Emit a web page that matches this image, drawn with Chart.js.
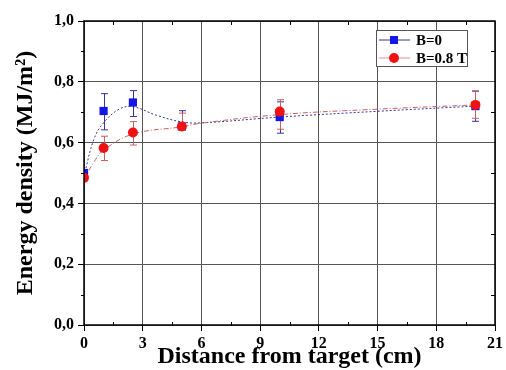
<!DOCTYPE html>
<html>
<head>
<meta charset="utf-8">
<script src="https://cdn.jsdelivr.net/npm/chart.js@4/dist/chart.umd.min.js"></script>
<style>
  html, body { margin: 0; padding: 0; background: #fff; }
  #wrap { width: 506px; height: 370px; }
</style>
</head>
<body>
<div id="wrap"><canvas id="chart" width="506" height="370"></canvas></div>
<script>
// Energy density vs. distance from target, B=0 and B=0.8 T

const distance = [0, 1, 2.5, 5, 10, 20];
const energyB0 = [0.50, 0.704, 0.732, 0.653, 0.684, 0.72];
const energyB08 = [0.484, 0.582, 0.633, 0.653, 0.702, 0.724];

// error bar ends (top / bottom)
const b0Hi = [0.50, 0.761, 0.771, 0.705, 0.734, 0.77];
const b0Lo = [0.50, 0.642, 0.686, 0.653, 0.631, 0.67];
const b08Hi = [0.484, 0.621, 0.669, 0.697, 0.741, 0.768];
const b08Lo = [0.484, 0.541, 0.592, 0.653, 0.644, 0.68];

// smooth curves
const fitB0X = [0, 0.5, 1, 1.8, 2.5, 3.7, 5, 6, 10, 15, 20];
const fitB0Y = [0.49, 0.61, 0.665, 0.71, 0.718, 0.69, 0.668, 0.665, 0.684, 0.703, 0.72];
const fitB08X = [0, 0.5, 1, 2.5, 5, 6, 10, 15, 20];
const fitB08Y = [0.48, 0.535, 0.575, 0.628, 0.652, 0.664, 0.692, 0.71, 0.724];

const xTicks = [0, 3, 6, 9, 12, 15, 18, 21];
const yTicks = [0, 0.2, 0.4, 0.6, 0.8, 1.0];

const seriesNames = ['B=0', 'B=0.8 T'];

const BLUE = '#1515e8';
const BLUE_LINE = '#35359a';
const RED = '#ee1212';
const RED_LINE = '#c86060';
const SERIF = "'Liberation Serif', 'Times New Roman', serif";

const pts = (xs, ys) => xs.map((x, i) => ({ x, y: ys[i] }));

const errorBars = {
  id: 'errorBars',
  beforeDatasetsDraw(chart) {
    const { ctx, scales: { x, y } } = chart;
    const sets = [
      { hi: b0Hi, lo: b0Lo, color: BLUE_LINE },
      { hi: b08Hi, lo: b08Lo, color: RED_LINE }
    ];
    ctx.save();
    ctx.lineWidth = 1;
    sets.forEach(s => {
      ctx.strokeStyle = s.color;
      distance.forEach((d, i) => {
        if (s.hi[i] === s.lo[i]) return;
        const px = Math.round(x.getPixelForValue(d)) + 0.5;
        const top = y.getPixelForValue(s.hi[i]);
        const bot = y.getPixelForValue(s.lo[i]);
        ctx.beginPath();
        ctx.moveTo(px, top); ctx.lineTo(px, bot);
        ctx.moveTo(px - 3.5, top); ctx.lineTo(px + 3.5, top);
        ctx.moveTo(px - 3.5, bot); ctx.lineTo(px + 3.5, bot);
        ctx.stroke();
      });
    });
    ctx.restore();
  }
};

const frame = {
  id: 'frame',
  afterDatasetsDraw(chart) {
    const { ctx, chartArea: a, scales: { x, y } } = chart;
    const mids = t => t.slice(1).map((k, i) => (k.value + t[i].value) / 2);
    const seg = (x1, y1, x2, y2) => { ctx.moveTo(x1, y1); ctx.lineTo(x2, y2); };
    ctx.save();
    ctx.strokeStyle = '#000';
    ctx.lineWidth = 1;
    ctx.beginPath();
    mids(x.ticks).forEach(v => {
      const px = Math.round(x.getPixelForValue(v)) + 0.5;
      seg(px, a.bottom - 3, px, a.bottom + 1);
      seg(px, a.top, px, a.top + 4);
    });
    mids(y.ticks).forEach(v => {
      const py = Math.round(y.getPixelForValue(v)) + 0.5;
      seg(a.left - 3, py, a.left, py);
      seg(a.right - 4, py, a.right, py);
    });
    ctx.stroke();
    ctx.lineWidth = 1.5;
    ctx.strokeRect(a.left, a.top, a.right - a.left, a.bottom - a.top);

    // legend box in the upper right of the plot
    const lx = a.right - 119, ly = a.top + 9;
    ctx.lineWidth = 1;
    ctx.fillStyle = '#fff';
    ctx.fillRect(lx, ly, 91, 36);
    ctx.strokeStyle = '#555';
    ctx.strokeRect(lx + 0.5, ly + 0.5, 91, 36);
    ctx.font = 'bold 15px ' + SERIF;
    ctx.textBaseline = 'middle';
    const rows = [
      { y: ly + 10, line: BLUE_LINE, fill: BLUE, shape: 'rect' },
      { y: ly + 28, line: '#e09090', fill: RED, shape: 'circle' }
    ];
    rows.forEach((r, i) => {
      ctx.strokeStyle = r.line;
      ctx.beginPath();
      ctx.moveTo(lx + 3, r.y); ctx.lineTo(lx + 34, r.y);
      ctx.stroke();
      ctx.fillStyle = r.fill;
      if (r.shape === 'rect') ctx.fillRect(lx + 14, r.y - 4, 8, 8);
      else { ctx.beginPath(); ctx.arc(lx + 18, r.y, 5, 0, Math.PI * 2); ctx.fill(); }
      ctx.fillStyle = '#000';
      ctx.fillText(seriesNames[i], lx + 40, r.y + 1);
    });
    ctx.restore();
  }
};

new Chart(document.getElementById('chart'), {
  type: 'scatter',
  data: {
    datasets: [
      {
        label: seriesNames[1], data: pts(distance, energyB08), order: 0, clip: 0,
        pointStyle: 'circle', pointRadius: 5, pointHoverRadius: 5,
        backgroundColor: RED, borderColor: RED, borderWidth: 0
      },
      {
        label: seriesNames[0], data: pts(distance, energyB0), order: 1, clip: 0,
        pointStyle: 'rect', pointRadius: 5.8, pointHoverRadius: 5.8,
        backgroundColor: BLUE, borderColor: BLUE, borderWidth: 0
      },
      {
        type: 'line', label: 'fit B=0.8 T', data: pts(fitB08X, fitB08Y), order: 2,
        borderColor: RED_LINE, borderWidth: 1, borderDash: [5, 2, 1, 2],
        pointRadius: 0, tension: 0.4, fill: false
      },
      {
        type: 'line', label: 'fit B=0', data: pts(fitB0X, fitB0Y), order: 3,
        borderColor: BLUE_LINE, borderWidth: 1, borderDash: [2, 2],
        pointRadius: 0, tension: 0.4, fill: false
      }
    ]
  },
  options: {
    responsive: false,
    animation: false,
    devicePixelRatio: 1,
    layout: { padding: { top: 21, right: 9, left: 0, bottom: 0 } },
    plugins: { legend: { display: false }, tooltip: { enabled: false } },
    scales: {
      x: {
        type: 'linear', min: xTicks[0], max: xTicks[xTicks.length - 1],
        afterBuildTicks: s => { s.ticks = xTicks.map(v => ({ value: v })); },
        afterFit: s => { s.height = 45; },
        border: { display: false },
        grid: { color: '#555', lineWidth: 1, tickLength: 6, tickColor: '#000' },
        ticks: {
          color: '#000', padding: 3, autoSkip: false, maxRotation: 0,
          font: { family: SERIF, size: 16, weight: 'bold' },
          callback: v => String(v)
        },
        title: {
          display: true, text: 'Distance from target (cm)', color: '#000',
          padding: { top: 0, bottom: 0 },
          font: { family: SERIF, size: 24, weight: 'bold', lineHeight: 1.1 }
        }
      },
      y: {
        type: 'linear', min: yTicks[0], max: yTicks[yTicks.length - 1],
        afterBuildTicks: s => { s.ticks = yTicks.map(v => ({ value: v })); },
        afterFit: s => { s.width = 84; },
        border: { display: false },
        grid: { color: '#555', lineWidth: 1, tickLength: 6, tickColor: '#000' },
        ticks: {
          color: '#000', padding: 4,
          font: { family: SERIF, size: 16, weight: 'bold' },
          callback: v => v.toFixed(1).replace('.', ',')
        },
        title: {
          display: true, text: 'Energy density (MJ/m²)', color: '#000',
          padding: { top: 13, bottom: 0 },
          font: { family: SERIF, size: 24, weight: 'bold', lineHeight: 1.1 }
        }
      }
    }
  },
  plugins: [errorBars, frame]
});
</script>
</body>
</html>
